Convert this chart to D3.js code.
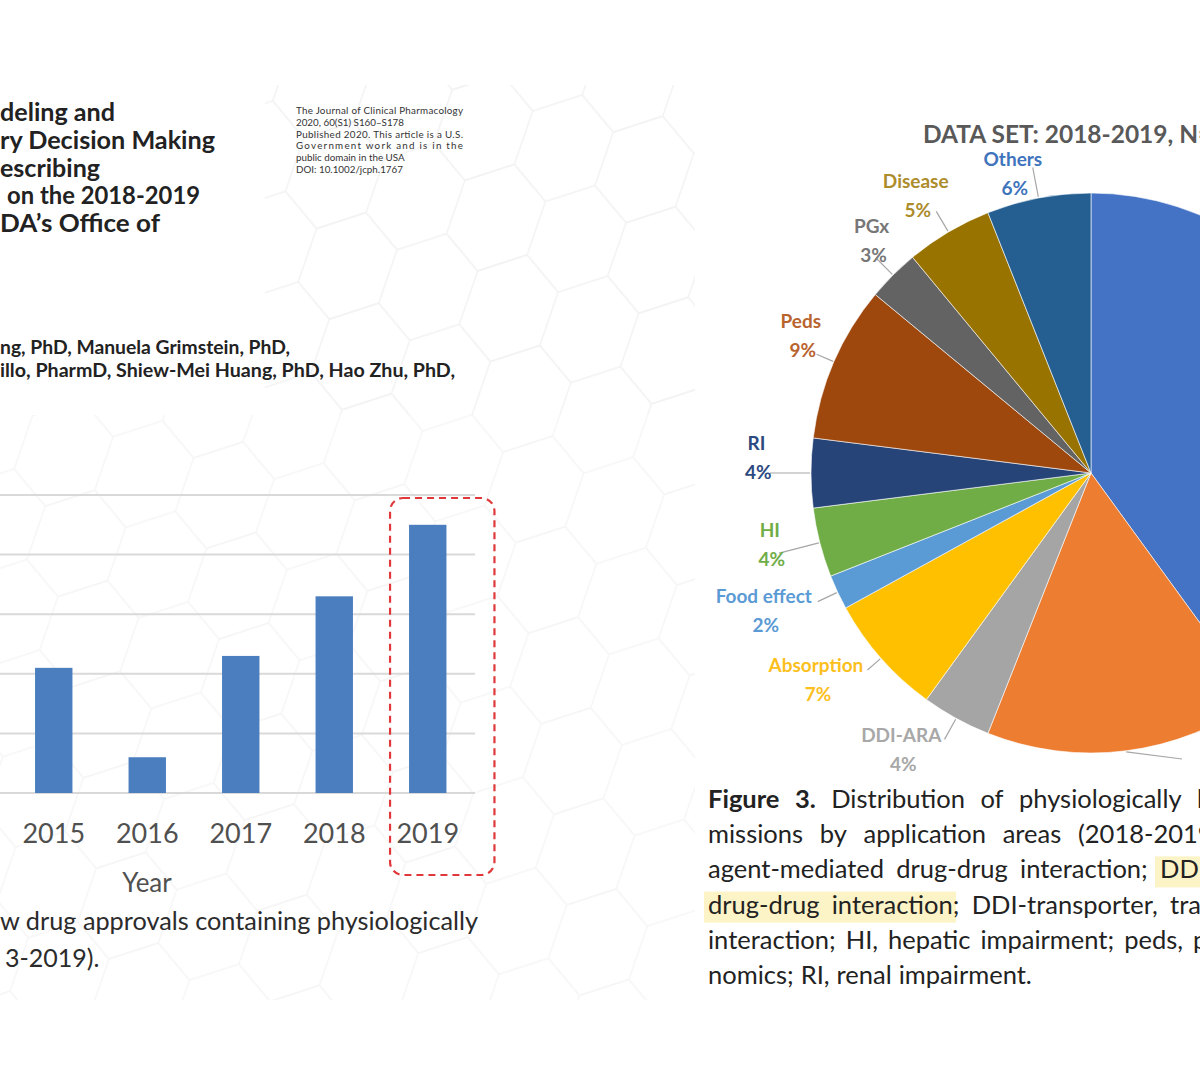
<!DOCTYPE html>
<html><head><meta charset="utf-8">
<script src="https://cdn.jsdelivr.net/npm/d3@7"></script>
<style>html,body{margin:0;padding:0;background:#fff;} svg{display:block;}</style>
</head><body>
<svg id="c" width="1200" height="1080"></svg>
<script>
// ---------- DATA ----------
const years = ["2015", "2016", "2017", "2018", "2019"];
const approvals = [21, 6, 23, 33, 45];
const yTicks = [0, 10, 20, 30, 40, 50];
const highlightYear = "2019";

const areas = ["DDI-CYP", "DDI-transporter", "DDI-ARA", "Absorption", "Food effect", "HI", "RI", "Peds", "PGx", "Disease", "Others"];
const shares = [40, 16, 4, 7, 2, 4, 4, 9, 3, 5, 6];
const sliceColors = ["#4472c4", "#ed7d31", "#a5a5a5", "#ffc000", "#5b9bd5", "#70ad47", "#264478", "#9e480e", "#636363", "#997300", "#255e91"];
const labelColors = ["#4472c4", "#ed7d31", "#a8a8a8", "#fcbf1e", "#5b9bd5", "#70ad47", "#2c4a80", "#b9642f", "#777777", "#ad8c2c", "#3f74bd"];
const pieTitle = "DATA SET: 2018-2019, N=";

const titleLines = ["deling and", "ry Decision Making", "escribing", "on the 2018-2019", "DA\u2019s Office of"];
const authorLines = ["ng, PhD, Manuela Grimstein, PhD,", "illo, PharmD, Shiew-Mei Huang, PhD, Hao Zhu, PhD,"];
const journalLines = ["The Journal of Clinical Pharmacology", "2020, 60(S1) S160\u2013S178", "Published 2020. This article is a U.S.", "Government work and is in the", "public domain in the USA", "DOI: 10.1002/jcph.1767"];
const leftCaption = ["w drug approvals containing physiologically", "3-2019)."];
const rightCaption = [
  ["Figure", "3.", "Distribution", "of", "physiologically", "b"],
  ["missions", "by", "application", "areas", "(2018-2019"],
  ["agent-mediated", "drug-drug", "interaction;", "DD"],
  ["drug-drug", "interaction;", "DDI-transporter,", "tran"],
  ["interaction;", "HI,", "hepatic", "impairment;", "peds,", "p"],
  ["nomics;", "RI,", "renal", "impairment."]
];

// ---------- LAYOUT ----------
const svg = d3.select("#c");
const FONT = "Lato, 'Open Sans', sans-serif";

// faint hex watermark on left page
const defs = svg.append("defs");
const hr = 52, hH = Math.sqrt(3) * hr;
const pat = defs.append("pattern").attr("id", "hex").attr("patternUnits", "userSpaceOnUse")
  .attr("width", 3 * hr).attr("height", hH)
  .attr("patternTransform", "rotate(-18) skewX(-10)");
function hexPts(cx, cy, r) {
  return d3.range(6).map(k => {
    const a = Math.PI / 3 * k;
    return [cx + r * Math.cos(a), cy + r * Math.sin(a)].join(",");
  }).join(" ");
}
[[0, 0], [3 * hr, 0], [0, hH], [3 * hr, hH], [1.5 * hr, hH / 2]].forEach(([x, y]) => {
  pat.append("polygon").attr("points", hexPts(x, y, hr))
    .attr("fill", "none").attr("stroke", "#eeeeee").attr("stroke-width", 1.3);
});
svg.append("rect").attr("x", 265).attr("y", 85).attr("width", 430).attr("height", 330)
  .attr("fill", "url(#hex)").attr("opacity", 0.75);
svg.append("rect").attr("x", 0).attr("y", 415).attr("width", 695).attr("height", 585)
  .attr("fill", "url(#hex)").attr("opacity", 0.55);

// ---------- title block ----------
const titleW = [115, 215, 100, 193, 160];
svg.append("g").selectAll("text").data(titleLines).join("text")
  .attr("x", (d, i) => i === 3 ? 7 : 0)
  .attr("y", (d, i) => 121 + i * 27.8)
  .attr("font-family", FONT).attr("font-weight", 700).attr("font-size", 24.5)
  .attr("textLength", (d, i) => titleW[i]).attr("lengthAdjust", "spacingAndGlyphs")
  .attr("fill", "#222").text(d => d);

const authorW = [290, 455];
svg.append("g").selectAll("text").data(authorLines).join("text")
  .attr("x", 0).attr("y", (d, i) => 354 + i * 23)
  .attr("font-family", FONT).attr("font-weight", 700).attr("font-size", 18)
  .attr("textLength", (d, i) => authorW[i]).attr("lengthAdjust", "spacingAndGlyphs")
  .attr("fill", "#222").text(d => d);

svg.append("g").selectAll("text").data(journalLines).join("text")
  .attr("x", 296).attr("y", (d, i) => 114 + i * 11.8)
  .attr("font-family", FONT).attr("font-size", 9.8).attr("fill", "#333")
  .each(function (d, i) {
    if (i === 0 || i === 2 || i === 3) d3.select(this).attr("textLength", 167).attr("lengthAdjust", "spacing");
  })
  .text(d => d);

// ---------- BAR CHART ----------
const x = d3.scaleBand().domain(years).range([7, 474.5]).paddingInner(0.6).paddingOuter(0.3);
const y = d3.scaleLinear().domain([0, 50]).range([793, 495]);

const grid = svg.append("g");
grid.selectAll("line").data(yTicks).join("line")
  .attr("x1", 0).attr("x2", 475)
  .attr("y1", d => y(d)).attr("y2", d => y(d))
  .attr("stroke", "#d9d9d9").attr("stroke-width", 2);

svg.append("g").selectAll("rect").data(years).join("rect")
  .attr("x", d => x(d)).attr("width", x.bandwidth())
  .attr("y", (d, i) => y(approvals[i]))
  .attr("height", (d, i) => y(0) - y(approvals[i]))
  .attr("fill", "#4a7ebf");

const xAxis = svg.append("g").attr("transform", `translate(0,${y(0)})`)
  .call(d3.axisBottom(x).tickSize(0).tickPadding(0));
xAxis.select(".domain").remove();
xAxis.selectAll("text").attr("dy", 0).attr("y", 50)
  .attr("font-family", FONT).attr("font-size", 27).attr("fill", "#505050");

svg.append("text").attr("x", 147).attr("y", 892).attr("text-anchor", "middle")
  .attr("font-family", FONT).attr("font-size", 26).attr("fill", "#505050").text("Year");

// dashed highlight box
const hx = x(highlightYear);
svg.append("rect")
  .attr("x", hx - 19).attr("y", 498)
  .attr("width", x.bandwidth() + 67).attr("height", 377)
  .attr("rx", 13).attr("ry", 13)
  .attr("fill", "none").attr("stroke", "#e0383a").attr("stroke-width", 2.2)
  .attr("stroke-dasharray", "7,5");

svg.append("g").selectAll("text").data(leftCaption).join("text")
  .attr("x", (d, i) => i === 0 ? 0 : 5).attr("y", (d, i) => 930 + i * 37)
  .attr("font-family", FONT).attr("font-size", 25).attr("fill", "#2b2b2b")
  .each(function (d, i) { if (i === 0) d3.select(this).attr("textLength", 478).attr("lengthAdjust", "spacingAndGlyphs"); })
  .text(d => d);

// ---------- PIE CHART ----------
const cx = 1091, cy = 473, R = 280;
const pie = d3.pie().sort(null).value(d => d)(shares);
const arc = d3.arc().innerRadius(0).outerRadius(R);
const gp = svg.append("g").attr("transform", `translate(${cx},${cy})`);
gp.selectAll("path").data(pie).join("path")
  .attr("d", arc).attr("fill", (d, i) => sliceColors[i])
  .attr("stroke", "#fff").attr("stroke-width", 0.6);

// label layout (angular nudge in degrees, label distance, leader end radius)
const labelNudge = [null, null, 5.7, 4.5, 2.4, 1.9, 2.6, 1.9, 1.7, -1.7, -3.8];
const labelDist = [null, null, 335, 344, 355, 329, 335, 321, 320, 328, 310];
const leaderEnd = [null, 325, 304, 298, 302, 322, 321, 299, 304, 304, 311];
const polar = (a, r) => [r * Math.sin(a), -r * Math.cos(a)];

pie.forEach((d, i) => {
  const m = (d.startAngle + d.endAngle) / 2;
  if (leaderEnd[i]) {
    let p0 = polar(m, R + 1), p1 = polar(m, leaderEnd[i]);
    if (i === 1) { p1 = [91, 286]; }
    gp.append("line").attr("x1", p0[0]).attr("y1", p0[1]).attr("x2", p1[0]).attr("y2", p1[1])
      .attr("stroke", "#a6a6a6").attr("stroke-width", 1.2);
  }
  if (labelDist[i]) {
    const a = m + labelNudge[i] * Math.PI / 180;
    const [bx, by] = polar(a, labelDist[i]);
    const t = gp.append("text").attr("text-anchor", "middle")
      .attr("font-family", FONT).attr("font-weight", 700).attr("font-size", 19)
      .attr("fill", labelColors[i]);
    t.append("tspan").attr("x", bx).attr("y", by - 7.5).text(areas[i]);
    t.append("tspan").attr("x", bx + 2).attr("y", by + 21.5).text(shares[i] + "%");
  }
});

svg.append("text").attr("x", 923).attr("y", 143)
  .attr("font-family", FONT).attr("font-weight", 700).attr("font-size", 24.5)
  .attr("fill", "#595959").text(pieTitle);

// ---------- right caption ----------
const capX0 = 708;
const lastStart = [1197, 1078, 1160, 1170, 1193, null];
const capBase = 808, capStep = 35.2;
// highlights
svg.append("rect").attr("x", 1155).attr("y", capBase + 2 * capStep - 22).attr("width", 50).attr("height", 31).attr("fill", "#fcf3c6");
svg.append("rect").attr("x", 704).attr("y", capBase + 3 * capStep - 22).attr("width", 252).attr("height", 31).attr("fill", "#fcf3c6");

rightCaption.forEach((words, li) => {
  const g = svg.append("g");
  const nodes = words.map((w, wi) => g.append("text")
    .attr("y", capBase + li * capStep)
    .attr("font-family", FONT).attr("font-size", 25.5)
    .attr("font-weight", (li === 0 && wi < 2) ? 700 : 400)
    .attr("fill", "#222").text(w));
  const widths = nodes.map(n => n.node().getComputedTextLength());
  let gap = 7;
  if (lastStart[li] != null) {
    const used = d3.sum(widths.slice(0, -1));
    gap = (lastStart[li] - capX0 - used) / (words.length - 1);
  }
  let cur = capX0;
  nodes.forEach((n, k) => { n.attr("x", cur); cur += widths[k] + gap; });
});
</script>
</body></html>
